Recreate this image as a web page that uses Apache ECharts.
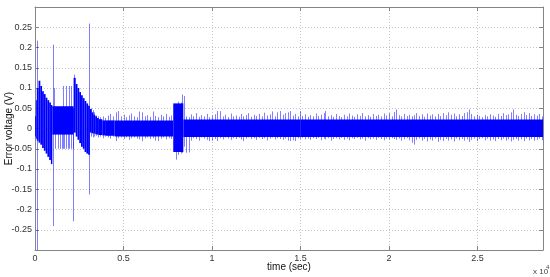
<!DOCTYPE html>
<html>
<head>
<meta charset="utf-8">
<script src="https://cdn.jsdelivr.net/npm/echarts@6/dist/echarts.min.js"></script>
<style>
  html, body { margin: 0; padding: 0; background: #fff; }
  #chart { width: 550px; height: 277px; }
</style>
</head>
<body>
<div id="chart"></div>
<script>
// time in units of 10^4 sec, voltage in V

// solid core of the error signal: each block runs from bandT[i] to bandT[i+1]
const bandT  = [0.000, 0.005, 0.010, 0.020, 0.030, 0.040, 0.050, 0.060, 0.070, 0.080, 0.090, 0.098,
                0.218, 0.230, 0.240, 0.250, 0.260, 0.270, 0.280, 0.290, 0.300, 0.310, 0.320, 0.330,
                0.340, 0.350, 0.360, 0.380, 0.400, 0.450, 0.781, 0.838, 1.500, 2.870];
const bandLo = [-0.020, -0.025, -0.030, -0.035, -0.040, -0.048, -0.055, -0.062, -0.070, -0.078, -0.088, -0.015,
                -0.010, -0.020, -0.028, -0.036, -0.045, -0.050, -0.058, -0.062, -0.065, -0.010, -0.012, -0.012,
                -0.014, -0.015, -0.016, -0.017, -0.018, -0.020, -0.058, -0.021, -0.021];
const bandHi = [0.030, 0.070, 0.100, 0.118, 0.105, 0.092, 0.085, 0.076, 0.070, 0.064, 0.058, 0.055,
                0.125, 0.110, 0.100, 0.090, 0.082, 0.075, 0.068, 0.062, 0.056, 0.048, 0.040, 0.034,
                0.030, 0.026, 0.023, 0.020, 0.020, 0.020, 0.062, 0.022, 0.022];

// thin excursions (lowest and highest value at that instant)
const spikeT = [
  0.0096, 0.099, 0.108, 0.115, 0.130, 0.142, 0.155, 0.160, 0.165, 0.173, 0.185, 0.194, 0.203, 0.213, 0.217, 0.222, 0.306,
  0.315, 0.325, 0.335, 0.345, 0.355, 0.370, 0.385, 0.395, 0.410, 0.425, 0.440, 0.455, 0.470, 0.485, 0.500, 0.515,
  0.530, 0.545, 0.560, 0.575, 0.590, 0.605, 0.620, 0.635, 0.650, 0.665, 0.680, 0.695, 0.710, 0.725, 0.740, 0.755,
  0.770, 0.795, 0.810, 0.825, 0.833, 0.843, 0.853, 0.868, 0.880, 0.895, 0.910, 0.925, 0.940, 0.955, 0.970, 0.985,
  1.000, 1.015, 1.030, 1.045, 1.060, 1.075, 1.090, 1.105, 1.120, 1.135, 1.150, 1.165, 1.175, 1.190, 1.205, 1.220,
  1.235, 1.250, 1.265, 1.280, 1.295, 1.310, 1.325, 1.340, 1.355, 1.370, 1.385, 1.400, 1.415, 1.430, 1.440, 1.455,
  1.470, 1.485, 1.497, 1.510, 1.525, 1.540, 1.555, 1.570, 1.585, 1.600, 1.615, 1.630, 1.640, 1.655, 1.670, 1.685,
  1.700, 1.715, 1.730, 1.745, 1.760, 1.775, 1.790, 1.805, 1.820, 1.835, 1.850, 1.865, 1.880, 1.895, 1.910, 1.925,
  1.940, 1.955, 1.970, 1.985, 2.000, 2.015, 2.030, 2.040, 2.055, 2.070, 2.085, 2.100, 2.115, 2.130, 2.140, 2.155,
  2.170, 2.185, 2.200, 2.215, 2.230, 2.245, 2.260, 2.275, 2.290, 2.305, 2.320, 2.335, 2.350, 2.365, 2.380, 2.395,
  2.410, 2.425, 2.440, 2.450, 2.465, 2.480, 2.495, 2.510, 2.525, 2.540, 2.555, 2.570, 2.585, 2.600, 2.615, 2.630,
  2.645, 2.660, 2.675, 2.690, 2.700, 2.715, 2.730, 2.745, 2.760, 2.775, 2.790, 2.805, 2.820, 2.835, 2.850, 2.865
];
const spikeLo = [
  -0.300, -0.241, 0.000, -0.050, -0.050, -0.050, -0.050, -0.050, -0.050, -0.050, -0.050, -0.050, -0.050, -0.050, -0.229, -0.010, -0.163,
  -0.020, -0.022, -0.020, -0.018, -0.022, -0.020, -0.024, -0.020, -0.022, -0.025, -0.020, -0.031, -0.024, -0.022, -0.026, -0.022,
  -0.028, -0.024, -0.022, -0.025, -0.027, -0.031, -0.024, -0.022, -0.026, -0.024, -0.030, -0.031, -0.025, -0.022, -0.027, -0.024,
  -0.026, -0.077, -0.065, -0.062, -0.060, -0.045, -0.060, -0.059, -0.030, -0.024, -0.026, -0.030, -0.022, -0.025, -0.028, -0.031,
  -0.030, -0.026, -0.031, -0.024, -0.027, -0.022, -0.025, -0.028, -0.024, -0.026, -0.023, -0.027, -0.031, -0.025, -0.022, -0.026,
  -0.024, -0.028, -0.023, -0.026, -0.024, -0.029, -0.025, -0.022, -0.027, -0.024, -0.026, -0.028, -0.025, -0.030, -0.031, -0.029,
  -0.031, -0.024, -0.026, -0.023, -0.027, -0.025, -0.028, -0.024, -0.026, -0.023, -0.029, -0.025, -0.027, -0.024, -0.030, -0.026,
  -0.024, -0.027, -0.023, -0.028, -0.025, -0.029, -0.024, -0.026, -0.023, -0.027, -0.025, -0.030, -0.024, -0.027, -0.025, -0.028,
  -0.023, -0.026, -0.029, -0.025, -0.027, -0.024, -0.026, -0.028, -0.025, -0.030, -0.027, -0.024, -0.029, -0.035, -0.040, -0.028,
  -0.025, -0.030, -0.026, -0.032, -0.027, -0.030, -0.025, -0.033, -0.028, -0.031, -0.026, -0.030, -0.027, -0.032, -0.025, -0.029,
  -0.026, -0.030, -0.027, -0.033, -0.028, -0.025, -0.031, -0.026, -0.024, -0.029, -0.025, -0.030, -0.027, -0.031, -0.026, -0.029,
  -0.025, -0.030, -0.027, -0.032, -0.028, -0.026, -0.030, -0.027, -0.031, -0.025, -0.029, -0.026, -0.030, -0.028, -0.025, -0.029
];
const spikeHi = [
  0.217, 0.207, 0.100, 0.050, 0.050, 0.050, 0.050, 0.105, 0.050, 0.105, 0.050, 0.105, 0.105, 0.050, 0.050, 0.133, 0.259,
  0.050, 0.045, 0.040, 0.032, 0.030, 0.028, 0.030, 0.026, 0.032, 0.036, 0.030, 0.040, 0.043, 0.030, 0.034, 0.028,
  0.032, 0.037, 0.030, 0.028, 0.042, 0.040, 0.030, 0.033, 0.029, 0.042, 0.031, 0.028, 0.034, 0.030, 0.036, 0.029,
  0.032, 0.060, 0.066, 0.064, 0.084, 0.080, 0.030, 0.028, 0.035, 0.030, 0.038, 0.029, 0.033, 0.030, 0.036, 0.028,
  0.032, 0.035, 0.043, 0.043, 0.030, 0.034, 0.028, 0.037, 0.030, 0.032, 0.029, 0.036, 0.030, 0.033, 0.038, 0.029,
  0.034, 0.031, 0.036, 0.030, 0.039, 0.032, 0.035, 0.042, 0.030, 0.040, 0.043, 0.034, 0.038, 0.040, 0.043, 0.032,
  0.036, 0.030, 0.043, 0.031, 0.035, 0.029, 0.033, 0.030, 0.037, 0.031, 0.034, 0.038, 0.043, 0.030, 0.033, 0.029,
  0.036, 0.031, 0.028, 0.034, 0.030, 0.037, 0.032, 0.029, 0.035, 0.031, 0.038, 0.030, 0.033, 0.029, 0.036, 0.031,
  0.034, 0.030, 0.037, 0.032, 0.038, 0.030, 0.041, 0.047, 0.033, 0.030, 0.036, 0.031, 0.034, 0.030, 0.033, 0.038,
  0.031, 0.035, 0.029, 0.037, 0.032, 0.035, 0.030, 0.036, 0.031, 0.038, 0.033, 0.040, 0.034, 0.037, 0.030, 0.035,
  0.031, 0.038, 0.040, 0.047, 0.036, 0.030, 0.034, 0.031, 0.028, 0.033, 0.030, 0.035, 0.032, 0.029, 0.036, 0.031,
  0.038, 0.033, 0.035, 0.040, 0.047, 0.034, 0.031, 0.036, 0.040, 0.033, 0.038, 0.031, 0.035, 0.032, 0.036, 0.030
];

const xTicks = [0, 0.5, 1, 1.5, 2, 2.5];
const yTicks = [-0.25, -0.2, -0.15, -0.1, -0.05, 0, 0.05, 0.1, 0.15, 0.2, 0.25];

const bandData = bandLo.map((lo, i) => [bandT[i], bandT[i + 1], lo, bandHi[i]]);
const spikeData = spikeT.map((t, i) => [t, spikeLo[i], spikeHi[i]]);

const frameColor = '#858585';
const font = 'Liberation Sans, Arial, sans-serif';

function renderBand(params, api) {
  const a = api.coord([api.value(0), api.value(3)]);
  const b = api.coord([api.value(1), api.value(2)]);
  return {
    type: 'rect',
    shape: { x: a[0], y: a[1], width: b[0] - a[0], height: b[1] - a[1] },
    style: { fill: '#0000ff' }
  };
}

function renderSpike(params, api) {
  const lo = api.coord([api.value(0), api.value(1)]);
  const hi = api.coord([api.value(0), api.value(2)]);
  const x = Math.round(lo[0]) + 0.5;
  return {
    type: 'line',
    shape: { x1: x, y1: lo[1], x2: x, y2: hi[1] },
    style: { stroke: 'rgba(0,0,255,0.5)', lineWidth: 1 }
  };
}

const chart = echarts.init(document.getElementById('chart'), null, { renderer: 'canvas' });

const baseAxis = {
  axisLine: { show: true, onZero: false, lineStyle: { color: frameColor, width: 1 } },
  axisTick: { show: true, inside: true, length: 4, lineStyle: { color: frameColor } },
  splitLine: { show: false },
  nameMoveOverlap: false
};

chart.setOption({
  animation: false,
  backgroundColor: '#fff',
  grid: { left: 35, right: 7, top: 7, bottom: 27, containLabel: false, outerBoundsMode: 'none' },
  xAxis: [
    Object.assign({}, baseAxis, {
      type: 'value', min: 0, max: 2.87, interval: 0.5, position: 'bottom',
      name: 'time (sec)', nameLocation: 'middle', nameGap: 12,
      nameTextStyle: { fontFamily: font, fontSize: 10, color: '#111' },
      axisLabel: {
        fontFamily: font, fontSize: 9, color: '#333', margin: 4,
        formatter: v => xTicks.includes(v) ? String(v) : ''
      },
      splitLine: { show: true, lineStyle: { color: '#c4c4c4', type: [1, 2], width: 1 } }
    }),
    Object.assign({}, baseAxis, {
      type: 'value', min: 0, max: 2.87, interval: 0.5, position: 'top',
      axisLabel: { show: false }
    })
  ],
  yAxis: [
    Object.assign({}, baseAxis, {
      type: 'value', min: -0.3, max: 0.3, interval: 0.05, position: 'left',
      name: 'Error voltage (V)', nameLocation: 'middle', nameGap: 21, nameRotate: 90,
      nameTextStyle: { fontFamily: font, fontSize: 10, color: '#111' },
      axisLabel: {
        fontFamily: font, fontSize: 9, color: '#333', margin: 3,
        formatter: v => {
          const r = +v.toFixed(2);
          return yTicks.includes(r) ? String(r) : '';
        }
      },
      splitLine: { show: true, lineStyle: { color: '#c4c4c4', type: [1, 2], width: 1 } }
    }),
    Object.assign({}, baseAxis, {
      type: 'value', min: -0.3, max: 0.3, interval: 0.05, position: 'right',
      axisLabel: { show: false }
    })
  ],
  series: [
    {
      type: 'custom', name: 'band', xAxisIndex: 0, yAxisIndex: 0,
      renderItem: renderBand, data: bandData,
      encode: { x: [0, 1], y: [2, 3] }, silent: true, z: 2
    },
    {
      type: 'custom', name: 'spikes', xAxisIndex: 0, yAxisIndex: 0,
      renderItem: renderSpike, data: spikeData,
      encode: { x: 0, y: [1, 2] }, silent: true, z: 3
    }
  ],
  graphic: [
    { type: 'text', left: 533, top: 268, style: { text: 'x 10', font: '8px ' + font, fill: '#444' } },
    { type: 'text', left: 546, top: 264, style: { text: '4', font: '6px ' + font, fill: '#444' } }
  ]
});
</script>
</body>
</html>
